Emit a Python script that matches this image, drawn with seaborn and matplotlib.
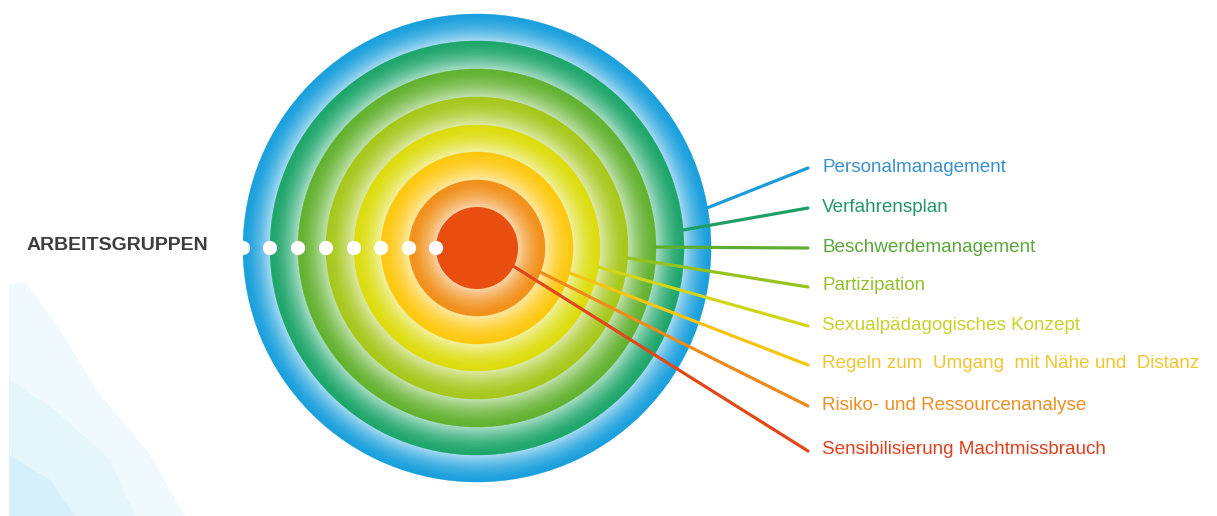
"""
Concentric ring diagram: "Arbeitsgruppen" with eight labelled levels.
"""
import matplotlib
matplotlib.use("Agg")
import matplotlib.pyplot as plt
from matplotlib.patches import Circle, Polygon
import matplotlib.colors as mcolors
import numpy as np
import pandas as pd
import seaborn as sns

# -----------------------------
# DATA
# -----------------------------
labels = [
    "Personalmanagement",
    "Verfahrensplan",
    "Beschwerdemanagement",
    "Partizipation",
    "Sexualpädagogisches Konzept",
    "Regeln zum  Umgang  mit Nähe und  Distanz",
    "Risiko- und Ressourcenanalyse",
    "Sensibilisierung Machtmissbrauch",
]
# outer radius of every level (outermost ring first, centre disc last)
radii = [234, 207, 179, 151, 123, 96, 68, 41]
ring_colors = ["#1aa0dc", "#1ea66b", "#63b22f", "#a6c71a",
               "#dcdc0c", "#fdc80e", "#f1901a", "#e84e10"]
line_colors = ["#1b9bd8", "#1e9e66", "#5daf34", "#96c21e",
               "#d0d617", "#f7c511", "#ef8a1c", "#e0481a"]
text_colors = ["#3a90cf", "#23956a", "#5aa53a", "#93c02c",
               "#c8d22a", "#f0c530", "#ee8e22", "#de3f1c"]
# angle (deg, counter-clockwise, y up) where each leader line leaves its ring
start_angles = [9.9, 5.0, 0.3, -3.8, -8.9, -15.0, -20.9, -26.6]
label_y = [168, 208, 248, 287, 326, 365, 406, 451]
group_title = "ARBEITSGRUPPEN"

# layout (pixels)
W, H = 1217, 516
CX, CY = 477, 248
LINE_END_X = 808
TEXT_X = 822


def blend(color, t):
    """Mix a colour with white by amount t (0 = colour, 1 = white)."""
    rgb = np.array(mcolors.to_rgb(color))
    return tuple(rgb + (1 - rgb) * t)


def draw_background(ax):
    # faint faceted light-blue shapes in the lower left corner
    shapes = [
        ([(9, 285), (25, 282), (60, 330), (100, 395), (150, 455), (185, 516), (9, 516)], "#f0f9fe"),
        ([(9, 380), (55, 410), (110, 460), (135, 516), (9, 516)], "#e4f5fc"),
        ([(9, 455), (50, 480), (75, 516), (9, 516)], "#d6f0fb"),
    ]
    for pts, col in shapes:
        ax.add_patch(Polygon(pts, closed=True, facecolor=col, edgecolor="none", zorder=0))


def draw_rings(ax):
    steps = 40
    for i, (r_out, col) in enumerate(zip(radii, ring_colors)):
        if i == len(radii) - 1:
            ax.add_patch(Circle((CX, CY), r_out, facecolor=col, edgecolor="none", zorder=2))
            continue
        r_in = radii[i + 1]
        for k in range(steps):
            t = k / steps
            r = r_out - (r_out - r_in) * t
            c = blend(col, 0.62 * t ** 1.6)
            ax.add_patch(Circle((CX, CY), r, facecolor=c, edgecolor=c,
                                linewidth=0.3, zorder=2))


def main():
    sns.set_theme(style="white")
    plt.rcParams["font.family"] = ["Liberation Sans", "DejaVu Sans"]

    fig = plt.figure(figsize=(W / 100, H / 100), dpi=100)
    ax = fig.add_axes([0, 0, 1, 1])
    ax.set_xlim(0, W)
    ax.set_ylim(H, 0)
    ax.set_aspect("equal")
    ax.axis("off")

    draw_background(ax)
    draw_rings(ax)

    # white dots on the left edge of each level
    dots = pd.DataFrame({"x": [CX - r for r in radii], "y": [CY] * len(radii)})
    sns.scatterplot(data=dots, x="x", y="y", s=105, color="white",
                    edgecolor="none", zorder=5, ax=ax, legend=False)

    # leader lines and labels
    for r, ang, ly, lc, tc, lab in zip(radii, start_angles, label_y,
                                       line_colors, text_colors, labels):
        a = np.deg2rad(ang)
        x0 = CX + r * np.cos(a)
        y0 = CY - r * np.sin(a)
        ax.plot([x0, LINE_END_X], [y0, ly], color=lc, linewidth=2.3,
                solid_capstyle="round", zorder=4)
        ax.text(TEXT_X, ly - 1, lab, color=tc, fontsize=13.6,
                ha="left", va="center", zorder=6)

    ax.text(27, 245, group_title, color="#3d3d3d", fontsize=14,
            fontweight="bold", ha="left", va="center", zorder=6)

    fig.savefig("out.png", dpi=100, facecolor="white")


if __name__ == "__main__":
    main()
